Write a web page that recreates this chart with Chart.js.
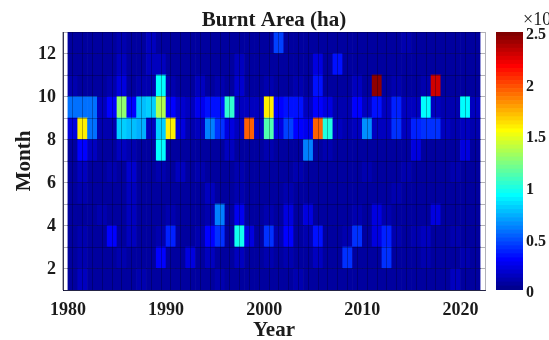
<!DOCTYPE html>
<html>
<head>
<meta charset="utf-8">
<script src="https://cdn.jsdelivr.net/npm/chart.js@4.4.1/dist/chart.umd.min.js"></script>
<style>
  html, body { margin: 0; padding: 0; background: #fff; }
  #wrap { position: relative; width: 549px; height: 340px; overflow: hidden; }
  #heat { position: absolute; left: 0; top: 0; }
  #cbar { position: absolute; left: 490px; top: 0; }
</style>
</head>
<body>
<div id="wrap">
  <canvas id="heat" width="549" height="340"></canvas>
  <canvas id="cbar" width="59" height="340"></canvas>
</div>
<script>
// Burnt area per month, in units of 10^4 ha, one array per month, 1980..2021
const years = [1980, 1981, 1982, 1983, 1984, 1985, 1986, 1987, 1988, 1989,
               1990, 1991, 1992, 1993, 1994, 1995, 1996, 1997, 1998, 1999,
               2000, 2001, 2002, 2003, 2004, 2005, 2006, 2007, 2008, 2009,
               2010, 2011, 2012, 2013, 2014, 2015, 2016, 2017, 2018, 2019,
               2020, 2021];

const jan = [0.05,0.15,0.05,0.04,0.05,0.06,0.05,0.08,0.05,0.06, 0.05,0.06,0.05,0.04,0.06,0.10,0.05,0.06,0.05,0.04,
             0.05,0.06,0.05,0.08,0.05,0.06,0.05,0.04,0.05,0.06, 0.05,0.04,0.06,0.05,0.05,0.06,0.05,0.04,0.06,0.15, 0.05,0.06];
const feb = [0.05,0.10,0.05,0.06,0.05,0.08,0.05,0.06,0.05,0.30, 0.06,0.05,0.20,0.05,0.15,0.06,0.05,0.15,0.06,0.05,
             0.08,0.05,0.10,0.05,0.06,0.12,0.05,0.06,0.42,0.05, 0.06,0.05,0.42,0.05,0.06,0.05,0.08,0.05,0.06,0.05, 0.08,0.05];
const mar = [0.06,0.08,0.05,0.06,0.28,0.06,0.15,0.05,0.06,0.08, 0.38,0.06,0.05,0.08,0.30,0.42,0.06,0.95,0.22,0.06,
             0.42,0.08,0.30,0.06,0.10,0.35,0.06,0.05,0.08,0.42, 0.06,0.22,0.38,0.08,0.06,0.10,0.15,0.06,0.05,0.08, 0.06,0.05];
const apr = [0.05,0.06,0.05,0.10,0.05,0.06,0.12,0.05,0.06,0.05, 0.08,0.05,0.06,0.05,0.10,0.60,0.06,0.25,0.05,0.06,
             0.08,0.05,0.20,0.06,0.20,0.06,0.05,0.06,0.05,0.08, 0.06,0.22,0.08,0.06,0.05,0.06,0.05,0.20,0.06,0.05, 0.06,0.05];
const may = [0.04,0.08,0.05,0.04,0.05,0.06,0.12,0.04,0.05,0.06, 0.05,0.06,0.04,0.05,0.12,0.06,0.05,0.08,0.05,0.04,
             0.05,0.06,0.08,0.05,0.06,0.05,0.04,0.05,0.06,0.05, 0.05,0.06,0.05,0.08,0.05,0.04,0.06,0.05,0.05,0.04, 0.05,0.05];
const jun = [0.05,0.15,0.06,0.05,0.08,0.06,0.18,0.05,0.06,0.08, 0.05,0.12,0.06,0.10,0.05,0.06,0.05,0.08,0.05,0.06,
             0.05,0.06,0.05,0.08,0.05,0.06,0.05,0.05,0.06,0.05, 0.08,0.05,0.06,0.05,0.10,0.05,0.06,0.05,0.05,0.08, 0.05,0.06];
const jul = [0.05,0.30,0.12,0.05,0.06,0.12,0.08,0.06,0.05,0.92, 0.06,0.05,0.06,0.05,0.06,0.05,0.15,0.06,0.05,0.06,
             0.08,0.05,0.06,0.05,0.60,0.06,0.08,0.05,0.06,0.05, 0.06,0.05,0.06,0.05,0.06,0.20,0.05,0.06,0.05,0.06, 0.20,0.05];
const aug = [0.22,1.60,0.55,0.10,0.10,0.82,0.78,0.72,0.15,0.80, 1.60,0.20,0.10,0.15,0.60,0.42,0.20,0.15,1.95,0.15,
             1.12,0.20,0.45,0.30,0.25,1.95,0.98,0.12,0.10,0.12, 0.65,0.15,0.12,0.42,0.12,0.38,0.40,0.40,0.12,0.10, 0.15,0.10];
const sep = [0.55,0.55,0.55,0.15,0.30,1.28,0.30,0.78,0.80,1.35, 0.30,0.18,0.12,0.25,0.32,0.35,1.05,0.15,0.15,0.12,
             1.60,0.30,0.32,0.32,0.15,0.30,0.20,0.10,0.10,0.30, 0.12,0.32,0.15,0.38,0.12,0.15,0.92,0.15,0.10,0.10, 0.92,0.12];
const oct = [0.08,0.06,0.05,0.06,0.08,0.20,0.06,0.08,0.10,0.90, 0.08,0.05,0.06,0.12,0.06,0.08,0.06,0.18,0.06,0.05,
             0.08,0.06,0.06,0.08,0.06,0.35,0.06,0.05,0.06,0.12, 0.06,2.45,0.06,0.08,0.06,0.06,0.08,2.28,0.06,0.05, 0.06,0.06];
const nov = [0.05,0.05,0.04,0.05,0.06,0.14,0.05,0.06,0.15,0.12, 0.05,0.05,0.04,0.06,0.05,0.05,0.06,0.12,0.05,0.05,
             0.06,0.05,0.06,0.05,0.05,0.20,0.05,0.35,0.05,0.06, 0.05,0.06,0.05,0.05,0.05,0.06,0.05,0.06,0.05,0.05, 0.05,0.06];
const dec = [0.05,0.06,0.04,0.05,0.05,0.10,0.05,0.06,0.12,0.06, 0.05,0.04,0.05,0.05,0.06,0.05,0.04,0.05,0.04,0.05,
             0.06,0.45,0.05,0.04,0.05,0.06,0.05,0.04,0.05,0.04, 0.05,0.05,0.04,0.05,0.08,0.05,0.04,0.06,0.05,0.04, 0.05,0.04];

const months = [1, 2, 3, 4, 5, 6, 7, 8, 9, 10, 11, 12];
const monthRows = [jan, feb, mar, apr, may, jun, jul, aug, sep, oct, nov, dec];

const xTicks = [1980, 1990, 2000, 2010, 2020];
const yTicks = [2, 4, 6, 8, 10, 12];
const cbarTicks = [0, 0.5, 1, 1.5, 2, 2.5];
const cMin = 0, cMax = 2.5, nColors = 64;

const SERIF = "'Liberation Serif', 'Times New Roman', serif";
const INK = '#1b1b1b';
const EDGE = 'rgba(0,0,20,0.3)';

// MATLAB jet(m), row k (0-based)
function jet(k, m = nColors) {
  const n = Math.ceil(m / 4);
  const shift = Math.ceil(n / 2) - (m % 4 === 1 ? 1 : 0);
  const u = j => {
    if (j < 1 || j > 3 * n - 1) return 0;
    if (j <= n) return j / n;
    if (j <= 2 * n - 1) return 1;
    return (3 * n - j) / n;
  };
  const r = k + 1;
  const R = u(r - shift - n), G = u(r - shift), B = u(r - shift + n);
  return `rgb(${Math.round(R * 255)},${Math.round(G * 255)},${Math.round(B * 255)})`;
}

function colorFor(v) {
  const k = Math.max(0, Math.min(nColors - 1, Math.floor((v - cMin) / (cMax - cMin) * nColors)));
  return jet(k);
}

// one floating-bar dataset per month row, each cell spans [year, year+1] x [month, month+1]
const heatSets = monthRows.map((vals, r) => ({
  label: 'Month ' + months[r],
  data: years.map(yr => ({ x: yr + 0.5, y: [months[r], months[r] + 1] })),
  backgroundColor: vals.map(colorFor),
  values: vals,
  grouped: false,
  barPercentage: 1,
  categoryPercentage: 1,
  borderWidth: 0
}));

// title and axis titles, placed relative to the plot area
const plotTexts = {
  id: 'plotTexts',
  afterDraw(chart) {
    const { ctx, chartArea: a } = chart;
    const cx = (a.left + a.right) / 2;
    const cy = (a.top + a.bottom) / 2;
    ctx.save();
    ctx.fillStyle = INK;
    ctx.textAlign = 'center';
    ctx.textBaseline = 'alphabetic';
    ctx.font = `bold 21px ${SERIF}`;
    ctx.fillText('Burnt Area (ha)', cx, 26);
    ctx.fillText('Year', cx, 336);
    ctx.translate(30, cy);
    ctx.rotate(-Math.PI / 2);
    ctx.fillText('Month', 0, 0);
    ctx.restore();
  }
};

new Chart(document.getElementById('heat'), {
  type: 'bar',
  data: { datasets: heatSets },
  options: {
    responsive: false,
    animation: false,
    devicePixelRatio: 1,
    layout: { padding: { left: 31, right: 64, top: 32, bottom: 8.4 } },
    plugins: {
      legend: { display: false },
      tooltip: {
        callbacks: {
          title: items => String(Math.floor(items[0].raw.x)),
          label: item => `Month ${item.raw.y[0]}: ${(item.dataset.values[item.dataIndex] * 1e4).toFixed(0)} ha`
        }
      }
    },
    scales: {
      x: {
        type: 'linear',
        min: 1980,
        max: 2022,
        ticks: {
          stepSize: 1,
          autoSkip: false,
          maxRotation: 0,
          padding: 10,
          color: INK,
          font: { family: SERIF, size: 18, weight: 'bold' },
          callback: v => (xTicks.includes(v) ? String(v) : '')
        },
        grid: { color: EDGE, z: 1, drawTicks: false },
        border: { color: 'rgba(0,0,40,0.8)', z: 2 }
      },
      y: {
        type: 'linear',
        min: 1,
        max: 13,
        ticks: {
          stepSize: 1,
          autoSkip: false,
          padding: 7,
          labelOffset: 1,
          color: INK,
          font: { family: SERIF, size: 18, weight: 'bold' },
          callback: v => (yTicks.includes(v) ? String(v) : '')
        },
        grid: { color: EDGE, z: 1, drawTicks: false },
        border: { color: 'rgba(0,0,40,0.8)', z: 2 }
      }
    }
  },
  plugins: [plotTexts]
});

// colour bar: 64 jet segments stacked along the value axis
const cbarSets = Array.from({ length: nColors }, (_, k) => ({
  data: [[cMin + k * (cMax - cMin) / nColors, cMin + (k + 1) * (cMax - cMin) / nColors]],
  backgroundColor: jet(k),
  grouped: false,
  barPercentage: 1,
  categoryPercentage: 1,
  borderWidth: 0
}));

const exponentLabel = {
  id: 'exponentLabel',
  afterDraw(chart) {
    const { ctx, chartArea } = chart;
    ctx.save();
    ctx.fillStyle = INK;
    ctx.textBaseline = 'alphabetic';
    ctx.font = `18px ${SERIF}`;
    const x = chartArea.right;
    ctx.fillText('\u00d710', x, 25);
    const w = ctx.measureText('\u00d710').width;
    ctx.font = `12px ${SERIF}`;
    ctx.fillText('4', x + w, 17);
    ctx.restore();
  }
};

new Chart(document.getElementById('cbar'), {
  type: 'bar',
  data: { labels: [''], datasets: cbarSets },
  options: {
    responsive: false,
    animation: false,
    devicePixelRatio: 1,
    layout: { padding: { left: 6, right: 0, top: 32, bottom: 50 } },
    plugins: { legend: { display: false }, tooltip: { enabled: false } },
    scales: {
      x: { display: false },
      y: {
        position: 'right',
        min: cMin,
        max: cMax,
        afterBuildTicks: s => { s.ticks = cbarTicks.map(v => ({ value: v })); },
        ticks: {
          padding: 3,
          labelOffset: 3,
          color: INK,
          font: { family: SERIF, size: 16, weight: 'bold' },
          callback: v => String(v)
        },
        grid: { display: false, drawTicks: false },
        border: { display: false }
      }
    }
  },
  plugins: [exponentLabel]
});
</script>
</body>
</html>
